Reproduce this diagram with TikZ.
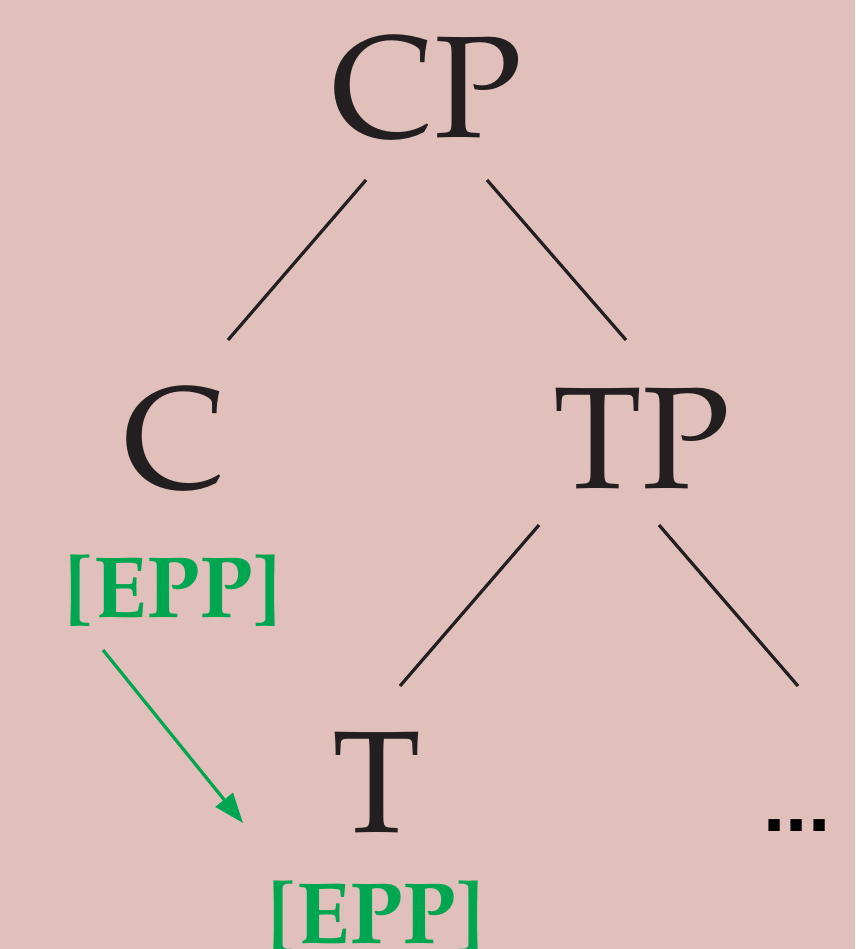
\documentclass[tikz,border=0pt]{standalone}
\usepackage[T1]{fontenc}
\usepackage{mathpazo}
\usepackage{fontspec}
\newfontfamily\dotsfont{Liberation Sans}
\usetikzlibrary{arrows.meta}
\definecolor{bg}{HTML}{E1C0BC}
\definecolor{ink}{HTML}{231F20}
\definecolor{eppgreen}{HTML}{00A650}
\tikzset{
  cat/.style={anchor=base, inner sep=0pt, text=ink, font=\fontencoding{T1}\fontfamily{ppl}\fontsize{145}{145}\selectfont},
  epp/.style={anchor=base, inner sep=0pt, text=eppgreen, font=\fontencoding{T1}\fontfamily{ppl}\bfseries\fontsize{87}{87}\selectfont},
  branch/.style={draw=ink, line width=3.2pt},
  feat/.style={draw=eppgreen, line width=3.2pt, -{Triangle[length=30pt,width=22pt]}}
}
\begin{document}
\begin{tikzpicture}[x=1pt,y=-1pt]
\fill[bg] (0,0) rectangle (855,949);
\useasboundingbox (0,0) rectangle (855,949);
\node[cat] (cp) at (427,138) {CP};
\node[cat] (c) at (175,488) {C};
\node[cat] (tp) at (642,488) {TP};
\node[cat] (t) at (377,832) {T};
\node[anchor=base, inner sep=0pt, text=black, font=\dotsfont\bfseries\fontsize{80}{80}\selectfont] (dots) at (797,831) {...};
\node[epp] (eppc) at (173,617) {[EPP]};
\node[epp] (eppt) at (376,943) {[EPP]};
\coordinate (cp-l) at (366,180);
\coordinate (c-t) at (228,340);
\coordinate (cp-r) at (487,180);
\coordinate (tp-t) at (626,340);
\coordinate (tp-l) at (539,525);
\coordinate (t-t) at (400,686);
\coordinate (tp-r) at (659,525);
\coordinate (dots-t) at (798,686);
\coordinate (eppc-s) at (103,650);
\coordinate (eppt-n) at (243,823);
\draw[branch] (cp-l) -- (c-t);
\draw[branch] (cp-r) -- (tp-t);
\draw[branch] (tp-l) -- (t-t);
\draw[branch] (tp-r) -- (dots-t);
\draw[feat] (eppc-s) -- (eppt-n);
\end{tikzpicture}
\end{document}
